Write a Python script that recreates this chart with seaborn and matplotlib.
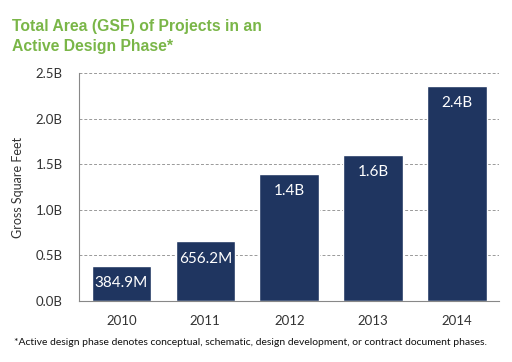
import pandas as pd
import matplotlib.pyplot as plt
import seaborn as sns

years = ["2010", "2011", "2012", "2013", "2014"]
gsf_billions = [0.3849, 0.6562, 1.394, 1.603, 2.362]
bar_labels = ["384.9M", "656.2M", "1.4B", "1.6B", "2.4B"]
y_ticks = [0.0, 0.5, 1.0, 1.5, 2.0, 2.5]
y_tick_labels = ["0.0B", "0.5B", "1.0B", "1.5B", "2.0B", "2.5B"]

df = pd.DataFrame({"Year": years, "GSF": gsf_billions})

sns.set_style("white")
plt.rcParams["font.family"] = ["Lato", "DejaVu Sans"]

fig = plt.figure(figsize=(5.12, 3.62), dpi=100)
ax = fig.add_axes([0.155, 0.169, 0.82, 0.628])

sns.barplot(x="Year", y="GSF", data=df, color="#1f3560", saturation=1, width=0.71, ax=ax)

ax.set_ylim(0, 2.5)
ax.set_xlim(-0.5, 4.5)
ax.set_yticks(y_ticks)
ax.set_yticklabels(y_tick_labels, fontsize=9.5, color="#333333")
ax.tick_params(axis="x", labelsize=9.5, labelcolor="#333333", length=0, pad=10)
ax.set_xticks([i - 0.5 for i in range(6)], minor=True)
ax.tick_params(axis="x", which="minor", length=4, color="#888888", width=0.8)
ax.tick_params(axis="y", length=0, pad=12)
ax.set_xlabel("")
ax.set_ylabel("Gross Square Feet", fontsize=9, color="#333333", labelpad=8)

ax.yaxis.grid(True, linestyle=(0, (3, 2)), color="#999999", linewidth=0.7)
ax.set_axisbelow(True)
sns.despine(ax=ax, top=True, right=True)
for s in ["left", "bottom"]:
    ax.spines[s].set_color("#888888")
    ax.spines[s].set_linewidth(0.8)

for i, (v, lab) in enumerate(zip(gsf_billions, bar_labels)):
    ax.annotate(lab, (i, v), xytext=(0, -12.5), textcoords="offset points",
                ha="center", va="center", color="white", fontsize=11)

fig.text(0.023, 0.948, "Total Area (GSF) of Projects in an\nActive Design Phase*",
         ha="left", va="top", fontsize=11.3, fontweight="bold", color="#7ab648",
         family=["Liberation Sans", "DejaVu Sans"], linespacing=1.4)

fig.text(0.49, 0.055, "*Active design phase denotes conceptual, schematic, design development, or contract document phases.",
         ha="center", va="center", fontsize=7.5, color="#111111")

fig.savefig("out.png", dpi=100)
